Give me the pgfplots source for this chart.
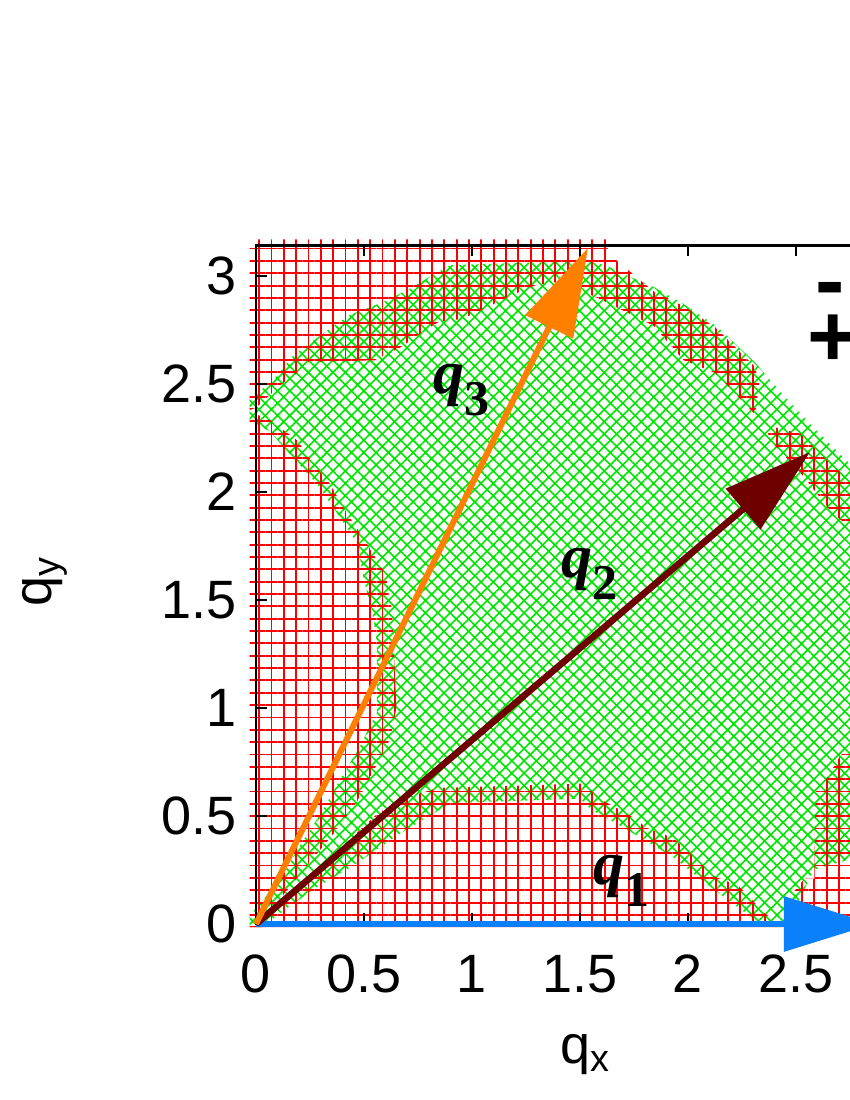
\documentclass[border=0pt]{standalone}
\usepackage{fontspec}
\setmainfont{Liberation Sans}
\newfontfamily\serifbi{Liberation Serif}
\usepackage{pgfplots}
\pgfplotsset{compat=1.18}
\usetikzlibrary{patterns.meta,arrows.meta}

\definecolor{pRed}{RGB}{255,0,0}
\definecolor{pGreen}{RGB}{0,228,0}
\definecolor{qOrange}{RGB}{255,128,0}
\definecolor{qDark}{RGB}{110,0,0}
\definecolor{qBlue}{RGB}{10,128,250}

\newcommand{\qlab}[1]{{\serifbi\bfseries\itshape\fontsize{31}{34}\selectfont q\raisebox{-11pt}{\upshape\fontsize{25}{28}\selectfont #1}}}

\pgfplotsset{
  qplane/.style={scale only axis, width=339.29pt, height=339.29pt,
    xmin=0, xmax=3.14159, ymin=0, ymax=3.14159, clip=false},
  plus region/.style={draw=none, mark=none,
    pattern={Hatch[angle=0,distance=6.17pt,line width=0.95pt]}, pattern color=pRed},
  cross region/.style={draw=none, mark=none,
    pattern={Hatch[angle=45,distance=4.36pt,line width=0.8pt]}, pattern color=pGreen},
}

\begin{document}
\begin{tikzpicture}
\begin{axis}[qplane, axis on top,
  xtick={0,0.5,1,1.5,2,2.5}, ytick={0,0.5,1,1.5,2,2.5,3},
  tick align=inside, tick pos=both, major tick length=5.5pt,
  axis line style={line width=1.2pt},
  every tick/.style={black, line width=1pt},
  tick label style={font=\fontsize{27}{32}\selectfont},
  xticklabel style={yshift=-12pt},
  yticklabel style={xshift=-6pt},
  label style={font=\fontsize{27}{32}\selectfont},
  /pgf/number format/assume math mode=true,
  xlabel={q\textsubscript{x}}, ylabel={q\textsubscript{y}},
  xlabel style={at={(axis description cs:0.485,-0.193)}, anchor=center},
  ylabel style={at={(axis description cs:-0.311,0.504)}, anchor=center},
]
% green (x) region
\addplot[cross region] coordinates {
  (-0.03,2.44) (0.065,2.50) (0.17,2.63) (0.36,2.77) (0.435,2.82) (0.59,2.88)
  (0.71,2.94) (0.81,3.00) (0.90,3.05) (1.52,3.07) (1.62,3.05) (1.70,3.01)
  (1.84,2.95) (1.98,2.87) (2.13,2.77) (2.31,2.60) (2.45,2.44) (2.60,2.28)
  (2.75,2.13) (2.90,1.98) (2.90,0.32) (2.75,0.30) (2.58,0.25) (2.52,0.12)
  (2.46,-0.015) (2.36,-0.015) (2.24,0.07) (2.08,0.19) (1.93,0.31) (1.78,0.40)
  (1.66,0.47) (1.55,0.53) (1.50,0.58) (0.90,0.56) (0.67,0.42) (0.435,0.26)
  (0.28,0.17) (0.125,0.06) (0.03,-0.015) (-0.03,-0.015) (-0.03,0.04)
  (0.11,0.20) (0.20,0.36) (0.30,0.51) (0.39,0.67) (0.48,0.82) (0.56,0.98)
  (0.56,1.30) (0.54,1.44) (0.50,1.59) (0.47,1.76) (0.37,1.91) (0.28,2.04)
  (0.17,2.16) (0.065,2.28) (-0.03,2.33)
};
% red (+) regions
\addplot[plus region] coordinates {
  (-0.03,3.17) (1.62,3.17) (1.62,3.00) (1.30,2.96) (1.16,2.90) (1.06,2.85)
  (0.95,2.80) (0.85,2.79) (0.77,2.74) (0.67,2.67) (0.55,2.61) (0.19,2.60)
  (0.19,2.55) (0.12,2.50) (0.065,2.45) (0.0,2.39) (-0.03,2.38)
};
\addplot[plus region] coordinates {
  (1.60,3.17) (1.66,3.08) (1.84,2.93) (1.98,2.86) (2.13,2.76) (2.31,2.58)
  (2.33,2.50) (2.31,2.36) (2.13,2.55) (1.98,2.61) (1.84,2.77) (1.62,2.88)
  (1.45,2.96)
};
\addplot[plus region] coordinates {
  (2.36,2.31) (2.52,2.27) (2.67,2.12) (2.80,2.02) (2.90,1.93) (2.90,1.72)
  (2.67,1.90) (2.52,2.09) (2.38,2.24)
};
\addplot[plus region] coordinates {
  (-0.03,2.37) (0.0,2.36) (0.07,2.33) (0.19,2.24) (0.26,2.14) (0.34,2.04)
  (0.41,1.92) (0.52,1.75) (0.60,1.62) (0.63,1.45) (0.65,1.00) (0.62,0.85)
  (0.55,0.72) (0.47,0.57) (0.36,0.42) (0.22,0.25) (0.10,0.10) (0.03,-0.015)
  (-0.03,-0.015)
};
\addplot[plus region] coordinates {
  (-0.03,-0.015) (0.0,0.02) (0.10,0.10) (0.25,0.22) (0.40,0.36) (0.55,0.50)
  (0.65,0.57) (0.84,0.63) (1.52,0.65) (1.59,0.58) (1.72,0.51) (1.82,0.44)
  (1.93,0.40) (2.06,0.28) (2.12,0.22) (2.23,0.18) (2.29,0.12) (2.34,0.06)
  (2.40,0.02) (2.42,-0.015)
};
\addplot[plus region] coordinates {
  (2.42,-0.015) (2.47,0.08) (2.49,0.15) (2.54,0.21) (2.585,0.21) (2.59,0.61)
  (2.64,0.67) (2.70,0.77) (2.76,0.85) (2.90,0.95) (2.90,-0.015)
};
\end{axis}

% arrows and labels above the frame
\begin{axis}[qplane, hide axis]
\addplot[qBlue, line width=3.3pt, -{Triangle[length=45pt,width=27pt]}]
  coordinates {(0,0) (2.86,0)};
\addplot[qDark, line width=3.3pt, -{Triangle[length=44pt,width=26pt]}]
  coordinates {(0,0) (2.565,2.185)};
\addplot[qOrange, line width=3pt, -{Triangle[length=44pt,width=26pt]}]
  coordinates {(0,0) (1.537,3.13)};
\node[anchor=base west, inner sep=0pt] at (axis cs:1.56,0.181) {\qlab{1}};
\node[anchor=base west, inner sep=0pt] at (axis cs:1.412,1.602) {\qlab{2}};
\node[anchor=base west, inner sep=0pt] at (axis cs:0.819,2.458) {\qlab{3}};
\node[font=\fontsize{44}{48}\bfseries\selectfont, inner sep=0pt] at (axis cs:2.657,2.905) {-};
\node[font=\fontsize{44}{48}\bfseries\selectfont, inner sep=0pt] at (axis cs:2.672,2.700) {+};
\end{axis}

\pgfresetboundingbox
\path[use as bounding box] (-128pt,-88pt) rectangle (297pt,462pt);
\end{tikzpicture}
\end{document}
